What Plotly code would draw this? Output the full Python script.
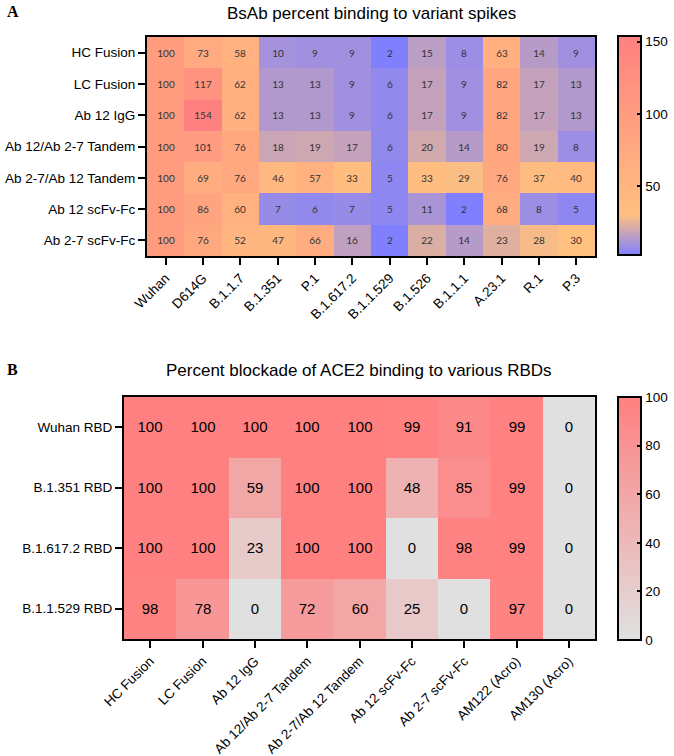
import plotly.graph_objects as go

# panel A: BsAb percent binding to variant spikes
rows_a = ["HC Fusion", "LC Fusion", "Ab 12 IgG", "Ab 12/Ab 2-7 Tandem",
          "Ab 2-7/Ab 12 Tandem", "Ab 12 scFv-Fc", "Ab 2-7 scFv-Fc"]
cols_a = ["Wuhan", "D614G", "B.1.1.7", "B.1.351", "P.1", "B.1.617.2",
          "B.1.1.529", "B.1.526", "B.1.1.1", "A.23.1", "R.1", "P.3"]
hc_fusion = [100, 73, 58, 10, 9, 9, 2, 15, 8, 63, 14, 9]
lc_fusion = [100, 117, 62, 13, 13, 9, 6, 17, 9, 82, 17, 13]
ab12_igg = [100, 154, 62, 13, 13, 9, 6, 17, 9, 82, 17, 13]
tandem_12_27 = [100, 101, 76, 18, 19, 17, 6, 20, 14, 80, 19, 8]
tandem_27_12 = [100, 69, 76, 46, 57, 33, 5, 33, 29, 76, 37, 40]
ab12_scfv = [100, 86, 60, 7, 6, 7, 5, 11, 2, 68, 8, 5]
ab27_scfv = [100, 76, 52, 47, 66, 16, 2, 22, 14, 23, 28, 30]
z_a = [hc_fusion, lc_fusion, ab12_igg, tandem_12_27, tandem_27_12, ab12_scfv, ab27_scfv]

# panel B: percent blockade of ACE2 binding
rows_b = ["Wuhan RBD", "B.1.351 RBD", "B.1.617.2 RBD", "B.1.1.529 RBD"]
cols_b = ["HC Fusion", "LC Fusion", "Ab 12 IgG", "Ab 12/Ab 2-7 Tandem",
          "Ab 2-7/Ab 12 Tandem", "Ab 12 scFv-Fc", "Ab 2-7 scFv-Fc",
          "AM122 (Acro)", "AM130 (Acro)"]
wuhan_rbd = [100, 100, 100, 100, 100, 99, 91, 99, 0]
b1351_rbd = [100, 100, 59, 100, 100, 48, 85, 99, 0]
b16172_rbd = [100, 100, 23, 100, 100, 0, 98, 99, 0]
b11529_rbd = [98, 78, 0, 72, 60, 25, 0, 97, 0]
z_b = [wuhan_rbd, b1351_rbd, b16172_rbd, b11529_rbd]

W, H = 674, 756


def px_x(p):
    return p / W


def px_y(p):
    return 1 - p / H


zmin_a, zmax_a = 2, 154
mid = (30 - zmin_a) / (zmax_a - zmin_a)
scale_a = [[0, "#8080FF"], [mid, "#FFC080"], [1, "#FF8080"]]
scale_b = [[0, "#E0E0E0"], [1, "#FF8080"]]

cb_common = dict(x=px_x(618), xanchor="left", xpad=0, thickness=23, ypad=0,
                 lenmode="pixels", yanchor="middle",
                 outlinewidth=2, outlinecolor="black",
                 ticks="inside", ticklen=5, tickwidth=2, tickcolor="black",
                 tickfont=dict(family="Liberation Sans", size=13.5, color="black"))

fig = go.Figure()

fig.add_trace(go.Heatmap(
    z=z_a, x=cols_a, y=rows_a, zmin=zmin_a, zmax=zmax_a,
    colorscale=scale_a, texttemplate="%{z}",
    textfont=dict(family="Lato", size=10, color="#333333"),
    xaxis="x", yaxis="y",
    colorbar=dict(len=219, y=px_y(145.5), tickvals=[50, 100, 150], **cb_common),
))

fig.add_trace(go.Heatmap(
    z=z_b, x=cols_b, y=rows_b, zmin=0, zmax=100,
    colorscale=scale_b, texttemplate="%{z}",
    textfont=dict(family="Liberation Sans", size=15, color="black"),
    xaxis="x2", yaxis="y2",
    colorbar=dict(len=243, y=px_y(518.5), tickvals=[0, 20, 40, 60, 80, 100], **cb_common),
))

axis_style = dict(showline=True, mirror=True, linecolor="black", linewidth=2,
                  ticks="outside", ticklen=7, tickwidth=2, tickcolor="black",
                  showgrid=False, zeroline=False, automargin=False,
                  tickfont=dict(family="Liberation Sans", size=13.5, color="black"))

fig.update_layout(
    width=W, height=H,
    margin=dict(l=0, r=0, t=0, b=0, autoexpand=False),
    paper_bgcolor="white", plot_bgcolor="white",
    xaxis=dict(domain=[px_x(147), px_x(595)], anchor="y", tickangle=-45, **axis_style),
    yaxis=dict(domain=[px_y(256), px_y(37)], anchor="x", autorange="reversed", **axis_style),
    xaxis2=dict(domain=[px_x(124), px_x(595)], anchor="y2", tickangle=-45, **axis_style),
    yaxis2=dict(domain=[px_y(639), px_y(397)], anchor="x2", autorange="reversed", **axis_style),
    annotations=[
        dict(text="BsAb percent binding to variant spikes", x=px_x(371), y=px_y(13),
             xref="paper", yref="paper", showarrow=False, xanchor="center", yanchor="middle",
             font=dict(family="Liberation Sans", size=17, color="black")),
        dict(text="Percent blockade of ACE2 binding to various RBDs", x=px_x(359), y=px_y(370),
             xref="paper", yref="paper", showarrow=False, xanchor="center", yanchor="middle",
             font=dict(family="Liberation Sans", size=17, color="black")),
        dict(text="<b>A</b>", x=px_x(5), y=px_y(12), xref="paper", yref="paper",
             showarrow=False, xanchor="left", yanchor="middle",
             font=dict(family="Liberation Serif", size=16, color="black")),
        dict(text="<b>B</b>", x=px_x(5), y=px_y(369), xref="paper", yref="paper",
             showarrow=False, xanchor="left", yanchor="middle",
             font=dict(family="Liberation Serif", size=16, color="black")),
    ],
)

fig.write_html("out.html", config={"displayModeBar": False},
               post_script="document.body.style.margin='0';")
